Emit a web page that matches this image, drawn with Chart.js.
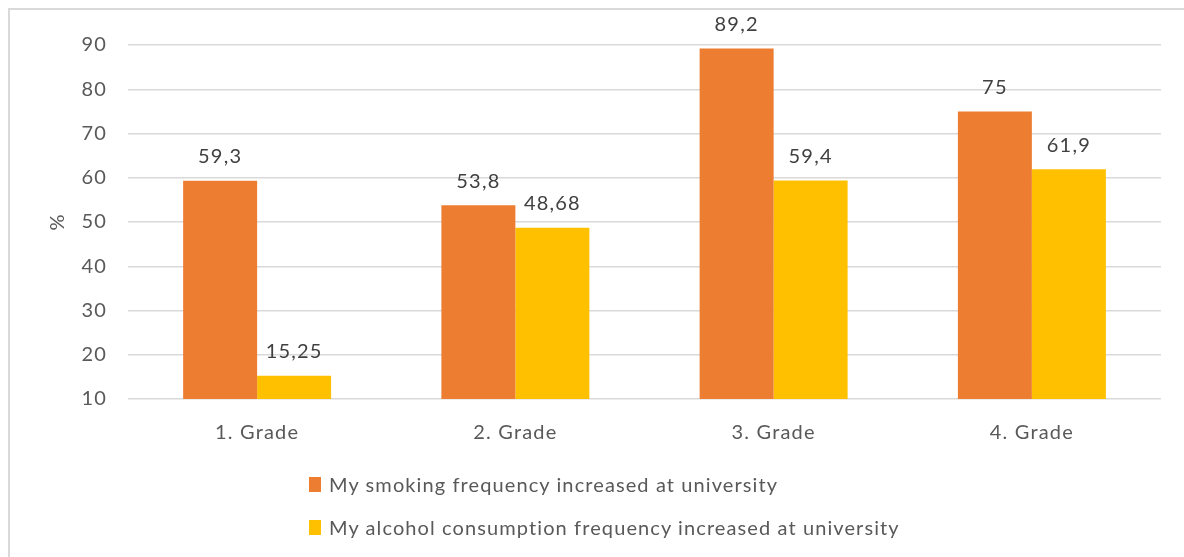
<!DOCTYPE html>
<html>
<head>
<meta charset="utf-8">
<script src="https://cdn.jsdelivr.net/npm/chart.js@4.4.1/dist/chart.umd.min.js"></script>
<style>
  body { margin: 0; background: #fff; }
  #wrap { position: relative; width: 1184px; height: 557px; }
  #legend { position: absolute; left: 309px; top: 472px; font-family: Lato, sans-serif; font-size: 20px; color: #595959; letter-spacing: 1.1px; }
  .item { display: flex; align-items: center; height: 24px; margin-bottom: 19px; white-space: nowrap; }
  .box { width: 12px; height: 15px; margin-right: 8px; }
</style>
</head>
<body>
<div id="wrap">
  <canvas id="myChart" width="1184" height="557"></canvas>
  <div id="legend"></div>
</div>
<script>
const grados = ["1. Grade", "2. Grade", "3. Grade", "4. Grade"];
const fumar = [59.3, 53.8, 89.2, 75];
const alcohol = [15.25, 48.68, 59.4, 61.9];
const nombresSeries = [
  "My smoking frequency increased at university",
  "My alcohol consumption frequency increased at university"
];
const colores = ["#ED7D31", "#FFC000"];
const ticksY = { min: 10, max: 90, paso: 10 };

const fuente = "Lato, sans-serif";

// borde gris arriba e izquierda, y espaciado de letras como el original
const bordePlugin = {
  id: "borde",
  beforeDraw(chart) {
    const ctx = chart.ctx;
    ctx.letterSpacing = "1.2px";
    ctx.save();
    ctx.strokeStyle = "#d9d9d9";
    ctx.lineWidth = 2;
    ctx.beginPath();
    ctx.moveTo(9, chart.height);
    ctx.lineTo(9, 9);
    ctx.lineTo(chart.width, 9);
    ctx.stroke();
    ctx.restore();
  }
};

// etiquetas de valor sobre cada barra, con coma decimal
const etiquetasPlugin = {
  id: "etiquetas",
  afterDatasetsDraw(chart) {
    const ctx = chart.ctx;
    ctx.save();
    ctx.font = "20px " + fuente;
    ctx.fillStyle = "#404040";
    ctx.textAlign = "center";
    ctx.textBaseline = "middle";
    chart.data.datasets.forEach((ds, i) => {
      chart.getDatasetMeta(i).data.forEach((bar, j) => {
        const texto = String(ds.data[j]).replace(".", ",");
        ctx.fillText(texto, bar.x, bar.y - 24);
      });
    });
    ctx.restore();
  }
};

const config = {
  type: "bar",
  data: {
    labels: grados,
    datasets: [
      { label: nombresSeries[0], data: fumar, backgroundColor: colores[0] },
      { label: nombresSeries[1], data: alcohol, backgroundColor: colores[1] }
    ]
  },
  options: {
    responsive: false,
    animation: false,
    layout: { padding: { left: 0, right: 23, top: 45, bottom: 108 } },
    datasets: { bar: { categoryPercentage: 0.573, barPercentage: 1 } },
    plugins: { legend: { display: false }, tooltip: { enabled: false } },
    scales: {
      x: {
        grid: { display: false },
        border: { display: false },
        ticks: { color: "#595959", font: { family: fuente, size: 20 }, padding: 14 },
        afterFit(scale) { scale.height = 50; }
      },
      y: {
        min: ticksY.min,
        max: ticksY.max,
        ticks: { stepSize: ticksY.paso, color: "#595959", font: { family: fuente, size: 20 }, padding: 21 },
        grid: { color: "#d9d9d9", lineWidth: 1.5, drawTicks: false },
        border: { display: false },
        title: { display: true, text: "%", color: "#595959", font: { family: fuente, size: 20 }, padding: { top: 46, bottom: 0 } },
        afterFit(scale) { scale.width = 128; }
      }
    }
  },
  plugins: [bordePlugin, etiquetasPlugin]
};

window.myChart = new Chart(document.getElementById("myChart").getContext("2d"), config);

// leyenda en html, una serie por fila
const leyenda = document.getElementById("legend");
config.data.datasets.forEach((ds) => {
  leyenda.innerHTML += `<div class="item"><span class="box" style="background:${ds.backgroundColor}"></span>${ds.label}</div>`;
});
</script>
</body>
</html>
